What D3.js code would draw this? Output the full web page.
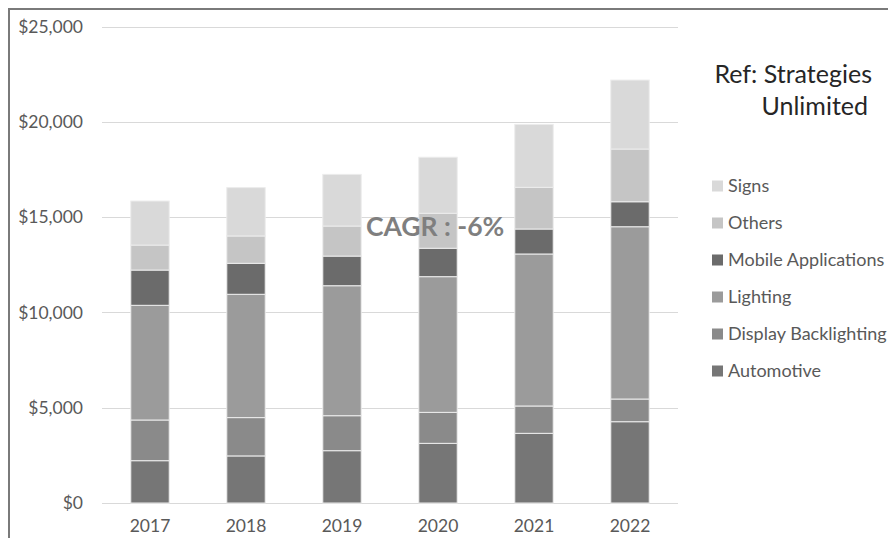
<!DOCTYPE html>
<html>
<head>
<meta charset="utf-8">
<script src="https://cdn.jsdelivr.net/npm/d3@7"></script>
<style>
  body { margin: 0; background: #fff; }
  svg { display: block; font-family: Lato, "Open Sans", sans-serif; }
  svg text { font-family: Lato, "Open Sans", sans-serif; }
</style>
</head>
<body>
<svg id="chart"></svg>
<script>
// Data
const years = ["2017", "2018", "2019", "2020", "2021", "2022"];
const seriesNames = ["Automotive", "Display Backlighting", "Lighting", "Mobile Applications", "Others", "Signs"];
const automotive = [2220, 2470, 2745, 3130, 3655, 4265];
const displayBacklighting = [2135, 2010, 1835, 1625, 1435, 1190];
const lighting = [6017, 6470, 6820, 7120, 7975, 9040];
const mobileApplications = [1850, 1625, 1555, 1490, 1310, 1310];
const others = [1310, 1435, 1575, 1835, 2185, 2765];
const signs = [2310, 2535, 2710, 2940, 3305, 3620];
const yTicks = [0, 5000, 10000, 15000, 20000, 25000];

const seriesColors = ["#767676", "#8a8a8a", "#9b9b9b", "#6b6b6b", "#c5c5c5", "#d9d9d9"];

const width = 888;
const height = 538;

const svg = d3.select("#chart")
    .attr("width", width)
    .attr("height", height);

// Build rows for the stack
const values = [automotive, displayBacklighting, lighting, mobileApplications, others, signs];
const rows = years.map((y, i) => {
  const row = { year: y };
  seriesNames.forEach((s, j) => { row[s] = values[j][i]; });
  return row;
});

const stacked = d3.stack().keys(seriesNames)(rows);

const x = d3.scaleBand()
    .domain(years)
    .range([102, 678])
    .paddingInner(0.6)
    .paddingOuter(0.3);

const y = d3.scaleLinear()
    .domain([0, 25000])
    .range([503, 26.5]);

const color = d3.scaleOrdinal()
    .domain(seriesNames)
    .range(seriesColors);

// Outer frame (cut off on the right and bottom)
svg.append("path")
    .attr("d", `M9,${height} V9 H${width}`)
    .attr("fill", "none")
    .attr("stroke", "#7a7a7a")
    .attr("stroke-width", 2);

// Gridlines
svg.append("g")
  .selectAll("line")
  .data(yTicks)
  .enter().append("line")
    .attr("x1", 102)
    .attr("x2", 678)
    .attr("y1", d => Math.round(y(d)) + 0.5)
    .attr("y2", d => Math.round(y(d)) + 0.5)
    .attr("stroke", "#d9d9d9")
    .attr("stroke-width", 1);

// Y axis labels
const yAxis = d3.axisLeft(y)
    .tickValues(yTicks)
    .tickSize(0)
    .tickPadding(0)
    .tickFormat(d => "$" + d3.format(",")(d));

svg.append("g")
    .attr("transform", "translate(83,0)")
    .attr("font-family", "Lato, sans-serif")
    .call(yAxis)
    .call(g => g.select(".domain").remove())
    .selectAll("text")
    .attr("fill", "#595959")
    .style("font-size", "17.5px");

// X axis labels
const xAxis = d3.axisBottom(x).tickSize(0).tickPadding(0);
svg.append("g")
    .attr("transform", "translate(0,520)")
    .attr("font-family", "Lato, sans-serif")
    .call(xAxis)
    .call(g => g.select(".domain").remove())
    .selectAll("text")
    .attr("fill", "#595959")
    .style("font-size", "17.5px");

// Stacked bars
svg.append("g")
  .selectAll("g")
  .data(stacked)
  .enter().append("g")
    .attr("fill", d => color(d.key))
  .selectAll("rect")
  .data(d => d)
  .enter().append("rect")
    .attr("x", d => x(d.data.year))
    .attr("y", d => y(d[1]))
    .attr("width", x.bandwidth())
    .attr("height", d => y(d[0]) - y(d[1]))
    .attr("stroke", "#ececec")
    .attr("stroke-width", 1);

// CAGR note
svg.append("text")
    .attr("x", 366)
    .attr("y", 236)
    .attr("fill", "#7f7f7f")
    .style("font-size", "26.5px")
    .style("font-weight", "bold")
    .text("CAGR : -6%");

// Source note
const note = svg.append("text")
    .attr("text-anchor", "end")
    .attr("fill", "#262626")
    .style("font-size", "25px");
note.append("tspan").attr("x", 872).attr("y", 83).text("Ref: Strategies");
note.append("tspan").attr("x", 868).attr("y", 115).text("Unlimited");

// Legend (top entry is the top of the stack)
const legendItems = seriesNames.slice().reverse();
const legend = svg.append("g")
  .selectAll("g")
  .data(legendItems)
  .enter().append("g")
    .attr("transform", (d, i) => `translate(712,${186 + i * 37})`);

legend.append("rect")
    .attr("x", 0)
    .attr("y", -5.5)
    .attr("width", 11)
    .attr("height", 11)
    .attr("fill", d => color(d));

legend.append("text")
    .attr("x", 16)
    .attr("dy", "0.35em")
    .attr("fill", "#595959")
    .style("font-size", "18px")
    .text(d => d);
</script>
</body>
</html>
